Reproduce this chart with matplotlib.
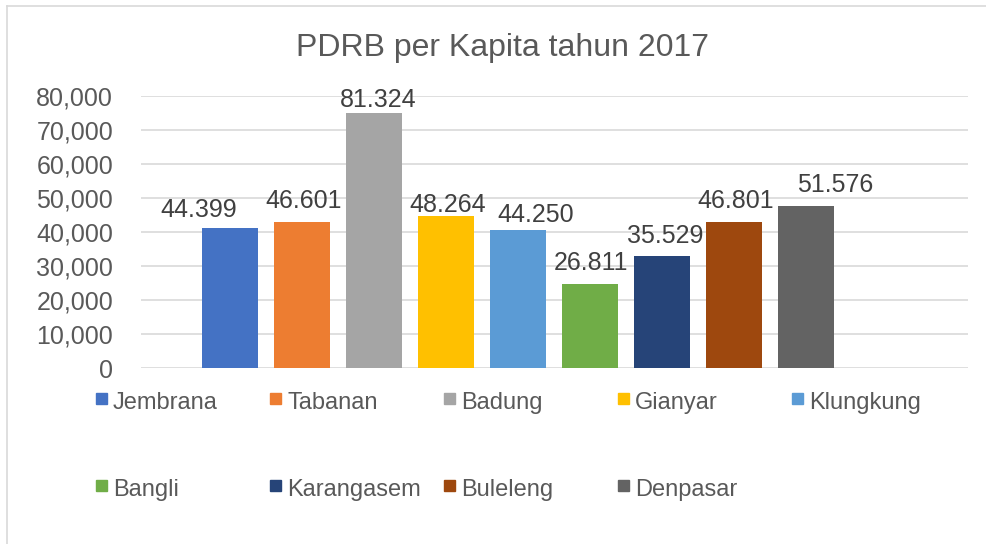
import matplotlib
matplotlib.use("Agg")
import matplotlib.pyplot as plt
from matplotlib.patches import Rectangle
from matplotlib.lines import Line2D

# data
kabupaten = ["Jembrana", "Tabanan", "Badung", "Gianyar", "Klungkung",
             "Bangli", "Karangasem", "Buleleng", "Denpasar"]
bar_values = [41200, 42950, 74900, 44700, 40600, 24700, 33000, 42950, 47600]
value_labels = ["44.399", "46.601", "81.324", "48.264", "44.250",
                "26.811", "35.529", "46.801", "51.576"]
y_ticks = [0, 10000, 20000, 30000, 40000, 50000, 60000, 70000, 80000]

colors = ["#4472C4", "#ED7D31", "#A5A5A5", "#FFC000", "#5B9BD5",
          "#70AD47", "#264478", "#9E480E", "#636363"]
# label offsets in pixels (dx, dy from bar top to text baseline)
label_offsets = [(-31, 11), (1.5, 14), (4, 6), (2, 4), (17.5, 8),
                 (1, 14), (3, 13), (1.5, 14), (29, 14)]

W, H = 986, 544
plt.rcParams["font.family"] = ["Liberation Sans", "DejaVu Sans"]

fig = plt.figure(figsize=(W / 100, H / 100), dpi=100)
ax = fig.add_axes([141 / W, 1 - 368.3 / H, 827 / W, 272.6 / H])

x = list(range(len(kabupaten)))
ax.bar(x, bar_values, width=0.78, color=colors, zorder=3)

ax.set_xlim(-1.236, 10.25)
ax.set_ylim(0, 80000)
ax.set_yticks(y_ticks)
ax.set_yticklabels([f"{v:,}" for v in y_ticks])
ax.set_xticks([])
ax.tick_params(axis="y", length=0, pad=20, labelsize=18, labelcolor="#595959")
ax.grid(axis="y", color="#d9d9d9", linewidth=1.2, zorder=0)
for s in ax.spines.values():
    s.set_visible(False)

for i, (v, lab) in enumerate(zip(bar_values, value_labels)):
    dx, dy = label_offsets[i]
    ax.annotate(lab, xy=(i, v), xytext=(dx, dy), textcoords="offset pixels",
                ha="center", va="baseline", fontsize=18, color="#404040")

# title
fig.text(502 / W, 1 - 56 / H, "PDRB per Kapita tahun 2017", ha="center",
         va="baseline", fontsize=23, color="#595959")

# legend (drawn by hand, fixed column widths like Excel)
for i, name in enumerate(kabupaten):
    col, row = i % 5, i // 5
    mx = 96 + 174 * col
    my = 393 + 87 * row
    fig.add_artist(Rectangle((mx / W, 1 - (my + 11) / H), 11 / W, 11 / H,
                             transform=fig.transFigure, color=colors[i]))
    fig.text((113 + 174 * col) / W, 1 - (409 + 87 * row) / H, name,
             ha="left", va="baseline", fontsize=17, color="#595959")

# chart frame
fig.add_artist(Line2D([7 / W, 7 / W], [0, 1 - 6 / H], transform=fig.transFigure,
                      color="#d9d9d9", linewidth=1.2))
fig.add_artist(Line2D([7 / W, 1], [1 - 6 / H, 1 - 6 / H], transform=fig.transFigure,
                      color="#d9d9d9", linewidth=1.2))

fig.savefig("out.png", dpi=100)
plt.close(fig)
